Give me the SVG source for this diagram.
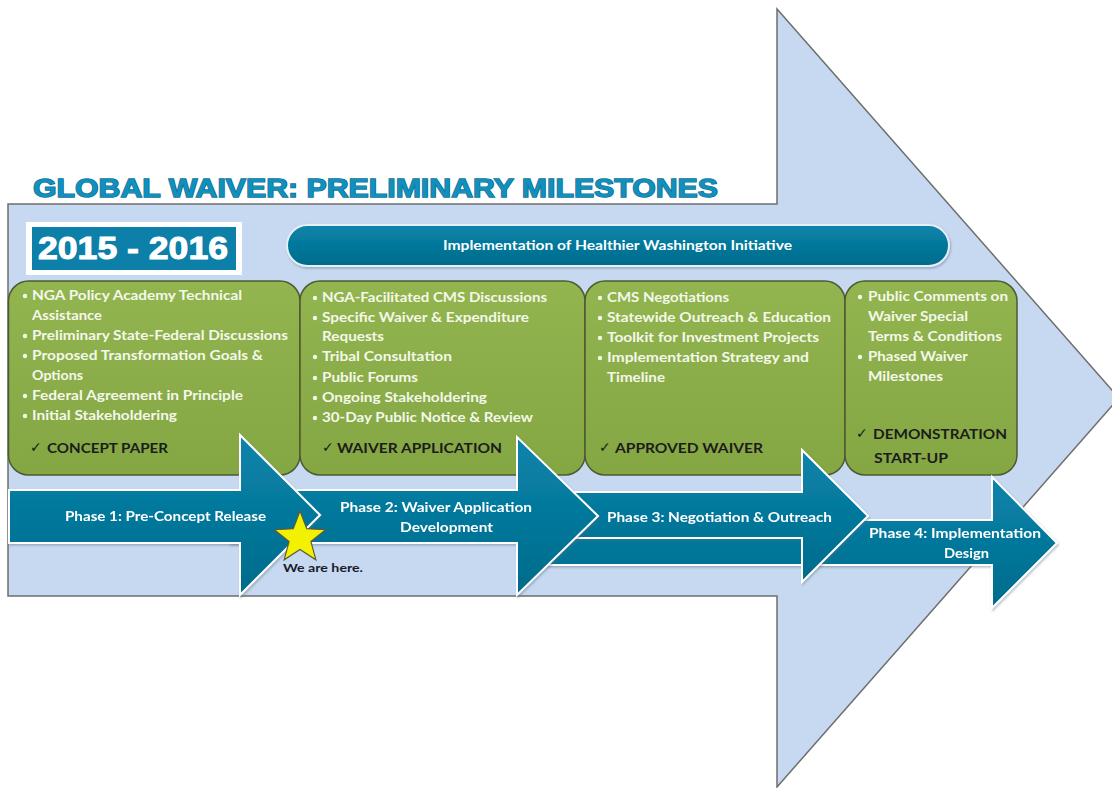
<svg xmlns="http://www.w3.org/2000/svg" width="1112" height="788" viewBox="0 0 1112 788">
  <defs>
    <linearGradient id="teal" x1="0" y1="0" x2="0" y2="1">
      <stop offset="0" stop-color="#0a84ab"/>
      <stop offset="1" stop-color="#006b8b"/>
    </linearGradient>
    <linearGradient id="green" x1="0" y1="0" x2="0" y2="1">
      <stop offset="0" stop-color="#93b550"/>
      <stop offset="1" stop-color="#84a643"/>
    </linearGradient>
    <filter id="soft" x="-5%" y="-5%" width="110%" height="115%">
      <feDropShadow dx="1" dy="1.5" stdDeviation="1" flood-color="#5a6a80" flood-opacity="0.45"/>
    </filter>
    <style>
      .big { fill: #c6d9f0; stroke: #6e6e6e; stroke-width: 1.5; }
      .title { font-family: "Liberation Sans", Arial, sans-serif; font-weight: 900; font-size: 25px; fill: #1190bd; stroke: #0d6f93; stroke-width: 1.3; paint-order: stroke; }
      .year { font-family: "Liberation Sans", Arial, sans-serif; font-weight: bold; font-size: 32px; fill: #ffffff; stroke: #ffffff; stroke-width: 1; }
      .phase { fill: url(#teal); stroke: #ffffff; stroke-width: 2; stroke-linejoin: miter; }
      .box { fill: url(#green); stroke: #4d5a33; stroke-width: 1.5; }
      .lbl { font-family: Lato, "Liberation Sans", sans-serif; font-weight: bold; font-size: 13.5px; fill: #ffffff; }
      .item { font-family: Lato, "Liberation Sans", sans-serif; font-weight: bold; font-size: 13.5px; fill: #f4f8ea; }
      .dot { fill: #f4f8ea; }
      .done { font-family: Lato, "Liberation Sans", sans-serif; font-weight: bold; font-size: 14px; fill: #1c1c1c; }
      .tick { font-family: "DejaVu Sans", sans-serif; font-weight: bold; font-size: 14px; fill: #1c1c1c; }
      .here { font-family: Lato, "Liberation Sans", sans-serif; font-weight: bold; font-size: 12px; fill: #1a1a28; }
    </style>
  </defs>

  <rect width="1112" height="788" fill="#ffffff"/>

  <!-- large background arrow -->
  <g id="big-arrow">
    <polygon class="big" points="8,204 777,204 777,9 1119,398 777,787 777,596 8,596"/>
  </g>

  <g id="title">
    <text class="title" x="33" y="197" textLength="685" lengthAdjust="spacingAndGlyphs">GLOBAL WAIVER: PRELIMINARY MILESTONES</text>
  </g>

  <g id="year">
    <rect x="26" y="222" width="216" height="53" fill="#ffffff"/>
    <rect x="32" y="227" width="204" height="43" fill="#0c80a8"/>
    <text class="year" x="38" y="259" textLength="190" lengthAdjust="spacingAndGlyphs">2015 - 2016</text>
  </g>

  <g id="banner">
    <rect x="287" y="225" width="662" height="41" rx="20.5" fill="url(#teal)" stroke="#e6eef8" stroke-width="2" filter="url(#soft)"/>
    <text class="lbl" x="443" y="250" textLength="349" lengthAdjust="spacingAndGlyphs">Implementation of Healthier Washington Initiative</text>
  </g>

  <!-- milestone boxes -->
  <g id="box1">
    <rect class="box" x="8.5" y="281" width="291.5" height="194" rx="20"/>
    <circle class="dot" cx="25" cy="296" r="2.2"/>
    <text class="item" x="32" y="300" textLength="210" lengthAdjust="spacingAndGlyphs">NGA Policy Academy Technical</text>
    <text class="item" x="32" y="320" textLength="70" lengthAdjust="spacingAndGlyphs">Assistance</text>
    <circle class="dot" cx="25" cy="336" r="2.2"/>
    <text class="item" x="32" y="340" textLength="256" lengthAdjust="spacingAndGlyphs">Preliminary State-Federal Discussions</text>
    <circle class="dot" cx="25" cy="356" r="2.2"/>
    <text class="item" x="32" y="360" textLength="231" lengthAdjust="spacingAndGlyphs">Proposed Transformation Goals &amp;</text>
    <text class="item" x="32" y="380" textLength="51" lengthAdjust="spacingAndGlyphs">Options</text>
    <circle class="dot" cx="25" cy="396" r="2.2"/>
    <text class="item" x="32" y="400" textLength="211" lengthAdjust="spacingAndGlyphs">Federal Agreement in Principle</text>
    <circle class="dot" cx="25" cy="416" r="2.2"/>
    <text class="item" x="32" y="420" textLength="145" lengthAdjust="spacingAndGlyphs">Initial Stakeholdering</text>
    <text class="tick" x="30" y="452">✓</text>
    <text class="done" x="47" y="453" textLength="121" lengthAdjust="spacingAndGlyphs">CONCEPT PAPER</text>
  </g>

  <g id="box2">
    <rect class="box" x="300" y="281" width="285" height="194" rx="20"/>
    <circle class="dot" cx="315" cy="298" r="2.2"/>
    <text class="item" x="322" y="302" textLength="225" lengthAdjust="spacingAndGlyphs">NGA-Facilitated CMS Discussions</text>
    <circle class="dot" cx="315" cy="318" r="2.2"/>
    <text class="item" x="322" y="322" textLength="207" lengthAdjust="spacingAndGlyphs">Specific Waiver &amp; Expenditure</text>
    <text class="item" x="322" y="341" textLength="62" lengthAdjust="spacingAndGlyphs">Requests</text>
    <circle class="dot" cx="315" cy="357" r="2.2"/>
    <text class="item" x="322" y="361" textLength="130" lengthAdjust="spacingAndGlyphs">Tribal Consultation</text>
    <circle class="dot" cx="315" cy="378" r="2.2"/>
    <text class="item" x="322" y="382" textLength="96" lengthAdjust="spacingAndGlyphs">Public Forums</text>
    <circle class="dot" cx="315" cy="398" r="2.2"/>
    <text class="item" x="322" y="402" textLength="165" lengthAdjust="spacingAndGlyphs">Ongoing Stakeholdering</text>
    <circle class="dot" cx="315" cy="418" r="2.2"/>
    <text class="item" x="322" y="422" textLength="211" lengthAdjust="spacingAndGlyphs">30-Day Public Notice &amp; Review</text>
    <text class="tick" x="322" y="452">✓</text>
    <text class="done" x="337" y="453" textLength="165" lengthAdjust="spacingAndGlyphs">WAIVER APPLICATION</text>
  </g>

  <g id="box3">
    <rect class="box" x="585" y="281" width="260" height="194" rx="20"/>
    <circle class="dot" cx="600" cy="298" r="2.2"/>
    <text class="item" x="607" y="302" textLength="122" lengthAdjust="spacingAndGlyphs">CMS Negotiations</text>
    <circle class="dot" cx="600" cy="318" r="2.2"/>
    <text class="item" x="607" y="322" textLength="224" lengthAdjust="spacingAndGlyphs">Statewide Outreach &amp; Education</text>
    <circle class="dot" cx="600" cy="338" r="2.2"/>
    <text class="item" x="607" y="342" textLength="212" lengthAdjust="spacingAndGlyphs">Toolkit for Investment Projects</text>
    <circle class="dot" cx="600" cy="358" r="2.2"/>
    <text class="item" x="607" y="362" textLength="202" lengthAdjust="spacingAndGlyphs">Implementation Strategy and</text>
    <text class="item" x="607" y="382" textLength="58" lengthAdjust="spacingAndGlyphs">Timeline</text>
    <text class="tick" x="599" y="452">✓</text>
    <text class="done" x="615" y="453" textLength="148" lengthAdjust="spacingAndGlyphs">APPROVED WAIVER</text>
  </g>

  <g id="box4">
    <rect class="box" x="845" y="281" width="172" height="194" rx="20"/>
    <circle class="dot" cx="860" cy="297" r="2.2"/>
    <text class="item" x="868" y="301" textLength="140" lengthAdjust="spacingAndGlyphs">Public Comments on</text>
    <text class="item" x="868" y="321" textLength="100" lengthAdjust="spacingAndGlyphs">Waiver Special</text>
    <text class="item" x="868" y="341" textLength="134" lengthAdjust="spacingAndGlyphs">Terms &amp; Conditions</text>
    <circle class="dot" cx="860" cy="357" r="2.2"/>
    <text class="item" x="868" y="361" textLength="100" lengthAdjust="spacingAndGlyphs">Phased Waiver</text>
    <text class="item" x="868" y="381" textLength="75" lengthAdjust="spacingAndGlyphs">Milestones</text>
    <text class="tick" x="856" y="438">✓</text>
    <text class="done" x="873" y="439" textLength="134" lengthAdjust="spacingAndGlyphs">DEMONSTRATION</text>
    <text class="done" x="874" y="463" textLength="74" lengthAdjust="spacingAndGlyphs">START-UP</text>
  </g>

  <!-- phase arrows, later phases underneath -->
  <g id="phase4" filter="url(#soft)">
    <polygon class="phase" points="540,520 992,520 992,477 1057,543 992,608 992,565 540,565"/>
    <text class="lbl" x="869" y="538" textLength="172" lengthAdjust="spacingAndGlyphs">Phase 4: Implementation</text>
    <text class="lbl" x="944" y="558" textLength="45" lengthAdjust="spacingAndGlyphs">Design</text>
  </g>

  <g id="phase3" filter="url(#soft)">
    <polygon class="phase" points="540,492 802,492 802,450 868,516 802,582 802,538 540,538"/>
    <text class="lbl" x="607" y="522" textLength="225" lengthAdjust="spacingAndGlyphs">Phase 3: Negotiation &amp; Outreach</text>
  </g>

  <g id="phase2" filter="url(#soft)">
    <polygon class="phase" points="230,490 517,490 517,437 598,516 517,595 517,543 230,543"/>
    <text class="lbl" x="340" y="512" textLength="192" lengthAdjust="spacingAndGlyphs">Phase 2: Waiver Application</text>
    <text class="lbl" x="400" y="532" textLength="93" lengthAdjust="spacingAndGlyphs">Development</text>
  </g>

  <g id="phase1" filter="url(#soft)">
    <polygon class="phase" points="9,490 240,490 240,435 320,515 240,595 240,543 9,543"/>
    <text class="lbl" x="65" y="521" textLength="201" lengthAdjust="spacingAndGlyphs">Phase 1: Pre-Concept Release</text>
  </g>

  <!-- current position marker -->
  <g id="marker">
    <polygon points="300,511 306.76,528.70 325.68,529.66 310.94,541.55 315.87,559.84 300,549.5 284.13,559.84 289.06,541.55 274.32,529.66 293.24,528.70" fill="#f2f200" stroke="#5a5a40" stroke-width="1.2" stroke-linejoin="miter"/>
    <text class="here" x="283" y="572" textLength="80" lengthAdjust="spacingAndGlyphs">We are here.</text>
  </g>
</svg>
